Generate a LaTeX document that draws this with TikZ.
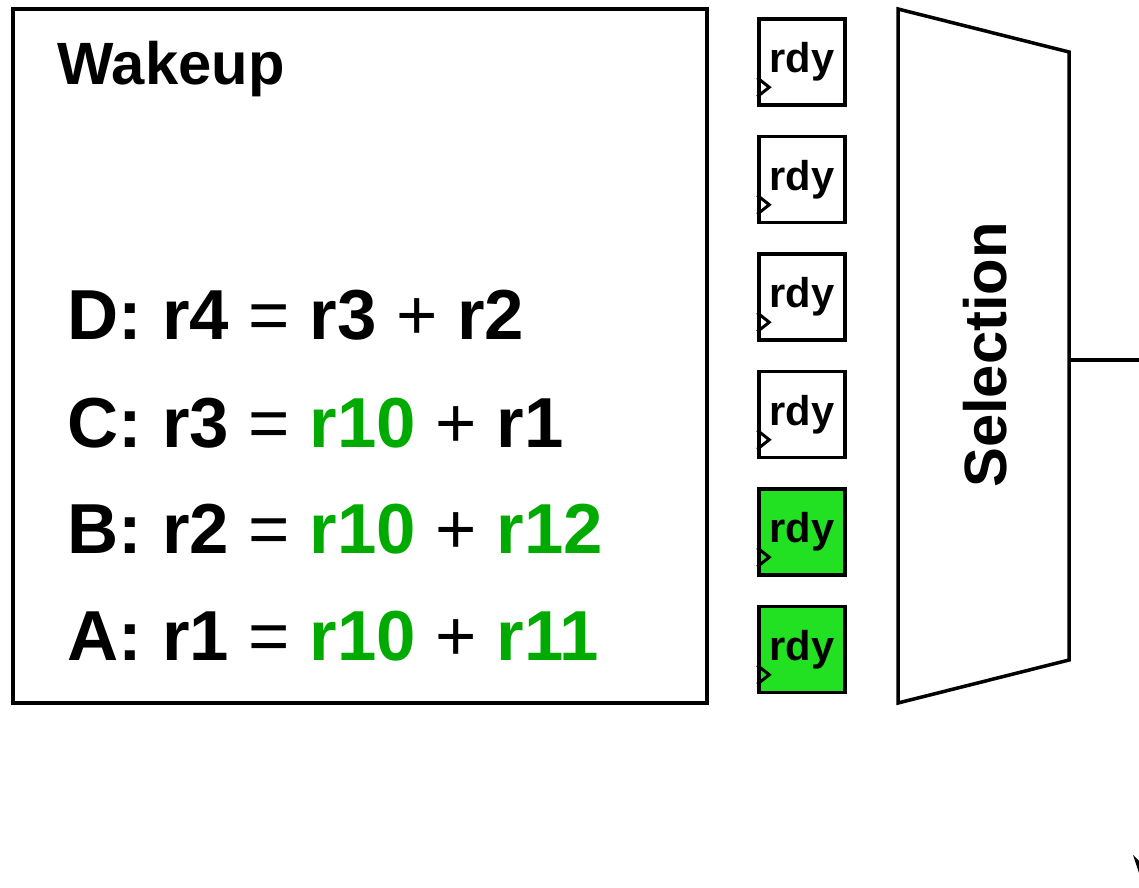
\documentclass[tikz,border=0pt]{standalone}
\usepackage{fontspec}
\setmainfont{Liberation Sans}
\usetikzlibrary{calc,positioning}
\definecolor{rdygreen}{RGB}{34,224,34}
\definecolor{srcgreen}{RGB}{0,170,0}
\newcommand{\src}[1]{{\color{srcgreen}#1}}
\newcommand{\opr}[1]{{\mdseries #1}}

\begin{document}
\begin{tikzpicture}[x=0.02cm,y=-0.02cm,line width=2pt,
  rdybox/.style={draw,minimum size=1.72cm,inner sep=0pt,font=\fontsize{23.7}{26}\selectfont\bfseries},
  eqrow/.style={anchor=base west,inner sep=0pt,font=\fontsize{40.3}{44}\selectfont\bfseries},
  title/.style={inner sep=0pt,font=\fontsize{34}{38}\selectfont\bfseries}]
  \useasboundingbox (0,0) rectangle (1139,888);
  % wakeup logic
  \node[draw,minimum width=13.88cm,minimum height=13.88cm] (wakeup) at (360,356) {};
  \node[title,anchor=base west] (wtitle) at (56,85) {Wakeup};
  \node[eqrow] (rowD) at (66,340) {D: r4 \opr{=} r3 \opr{+} r2};
  \node[eqrow] (rowC) at (66,447) {C: r3 \opr{=} \src{r10} \opr{+} r1};
  \node[eqrow] (rowB) at (66,553) {B: r2 \opr{=} \src{r10} \opr{+} \src{r12}};
  \node[eqrow] (rowA) at (66,660) {A: r1 \opr{=} \src{r10} \opr{+} \src{r11}};
  % ready bits
  \foreach \i in {0,...,5} {
    \ifnum\i>3
      \node[rdybox,fill=rdygreen] (rdy\i) at (802,62+117.5*\i) {rdy};
    \else
      \node[rdybox] (rdy\i) at (802,62+117.5*\i) {rdy};
    \fi
    \draw[line width=1.7pt] ($(rdy\i.south west)+(0,-10)$) -- ++(12,-9.5) -- ++(-12,-9.5);
  }
  % select logic
  \draw (898,9) -- (1069,52) -- (1069,660) -- (898,703) -- cycle;
  \node[title,rotate=90] (select) at (985,355) {Selection};
  \coordinate (selout) at (1069,360);
  \coordinate (grant) at (1139,360);
  \draw (selout) -- (grant);
  \fill (1133,855) -- (1139,861) -- (1139,873) -- cycle;
\end{tikzpicture}
\end{document}
